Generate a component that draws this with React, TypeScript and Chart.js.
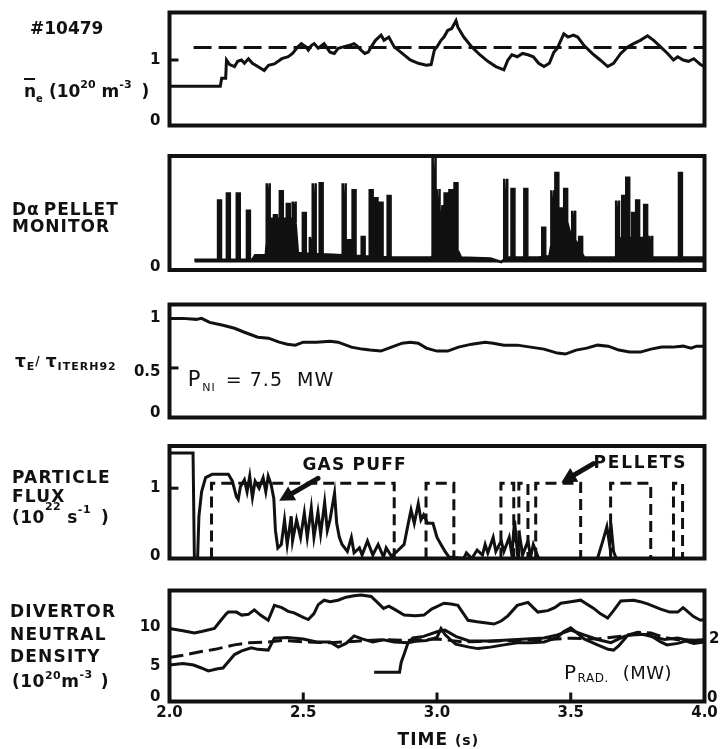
import React, { useEffect, useRef } from "react";
import { Chart, registerables } from "chart.js";
Chart.register(...registerables);

// ---------------- DATA ----------------
const xTicks = [2.0, 2.5, 3.0, 3.5, 4.0];
const xTickLabels = ["2.0", "2.5", "3.0", "3.5", "4.0"];

// Panel 1: line-averaged density n_e (10^20 m^-3)
const neT = [2.0, 2.19, 2.195, 2.21, 2.213, 2.225, 2.243, 2.255, 2.269, 2.28, 2.295, 2.31, 2.33, 2.354, 2.37, 2.392, 2.42, 2.444, 2.46, 2.48, 2.493, 2.51, 2.519, 2.53, 2.541, 2.556, 2.578, 2.6, 2.616, 2.631, 2.65, 2.67, 2.69, 2.705, 2.716, 2.73, 2.743, 2.754, 2.77, 2.791, 2.802, 2.82, 2.84, 2.87, 2.9, 2.93, 2.96, 2.978, 2.99, 3.0, 3.015, 3.026, 3.04, 3.055, 3.071, 3.078, 3.1, 3.13, 3.16, 3.19, 3.22, 3.25, 3.265, 3.28, 3.3, 3.32, 3.34, 3.36, 3.38, 3.4, 3.42, 3.437, 3.45, 3.463, 3.474, 3.49, 3.51, 3.526, 3.55, 3.58, 3.61, 3.638, 3.66, 3.687, 3.713, 3.735, 3.76, 3.787, 3.81, 3.836, 3.862, 3.884, 3.9, 3.92, 3.94, 3.96, 3.985, 4.0];
const neV = [0.6, 0.6, 0.72, 0.72, 1.0, 0.93, 0.9, 0.98, 1.0, 0.95, 1.02, 0.95, 0.9, 0.84, 0.92, 0.94, 1.02, 1.05, 1.1, 1.2, 1.25, 1.2, 1.15, 1.22, 1.25, 1.18, 1.25, 1.12, 1.1, 1.18, 1.2, 1.22, 1.25, 1.2, 1.15, 1.1, 1.12, 1.2, 1.3, 1.38, 1.3, 1.35, 1.2, 1.1, 1.0, 0.95, 0.92, 0.93, 1.15, 1.2, 1.3, 1.35, 1.45, 1.48, 1.6, 1.5, 1.35, 1.2, 1.08, 0.98, 0.9, 0.85, 1.0, 1.08, 1.05, 1.1, 1.08, 1.05, 0.95, 0.9, 0.95, 1.12, 1.18, 1.3, 1.4, 1.35, 1.38, 1.35, 1.22, 1.1, 1.0, 0.9, 0.95, 1.1, 1.2, 1.25, 1.3, 1.37, 1.3, 1.2, 1.1, 1.0, 1.05, 1.0, 0.98, 1.02, 0.93, 0.9];
const neRefT = [2.09, 4.0];
const neRefV = [1.19, 1.19];

// Panel 2: D-alpha pellet monitor (a.u.)
const daFloor = 0.065;
const daBaseT = [2.093, 2.18, 2.31, 2.32, 2.36, 2.37, 2.47, 2.48, 2.55, 2.65, 2.83, 2.98, 2.99, 3.08, 3.09, 3.2, 3.24, 3.26, 3.38, 3.42, 3.43, 3.52, 3.55, 3.67, 3.69, 3.77, 3.8, 4.0];
const daBaseV = [0.09, 0.09, 0.09, 0.13, 0.13, 0.45, 0.45, 0.15, 0.14, 0.13, 0.11, 0.11, 0.16, 0.16, 0.11, 0.1, 0.07, 0.11, 0.11, 0.12, 0.25, 0.25, 0.11, 0.11, 0.28, 0.28, 0.11, 0.11];
const daSpikeT = [2.187, 2.22, 2.257, 2.295, 2.369, 2.396, 2.418, 2.444, 2.466, 2.504, 2.53, 2.541, 2.567, 2.653, 2.672, 2.69, 2.724, 2.754, 2.772, 2.791, 2.821, 2.989, 3.004, 3.015, 3.034, 3.052, 3.071, 3.257, 3.284, 3.332, 3.399, 3.433, 3.448, 3.463, 3.481, 3.5, 3.511, 3.537, 3.675, 3.698, 3.713, 3.735, 3.75, 3.78, 3.799, 3.91];
const daSpikeV = [0.61, 0.67, 0.67, 0.52, 0.76, 0.48, 0.69, 0.58, 0.6, 0.5, 0.29, 0.76, 0.76, 0.76, 0.26, 0.7, 0.29, 0.7, 0.63, 0.59, 0.65, 1.0, 0.71, 0.57, 0.67, 0.7, 0.76, 0.8, 0.71, 0.71, 0.37, 0.7, 0.85, 0.54, 0.71, 0.35, 0.52, 0.29, 0.61, 0.65, 0.81, 0.5, 0.61, 0.57, 0.3, 0.85];

// Panel 3: tau_E / tau_ITERH92
const tauT = [2.0, 2.05, 2.1, 2.12, 2.15, 2.2, 2.243, 2.28, 2.33, 2.37, 2.41, 2.44, 2.47, 2.5, 2.55, 2.6, 2.63, 2.68, 2.72, 2.75, 2.79, 2.82, 2.87, 2.9, 2.93, 2.96, 3.0, 3.04, 3.08, 3.13, 3.18, 3.21, 3.25, 3.3, 3.35, 3.4, 3.45, 3.48, 3.52, 3.56, 3.6, 3.64, 3.68, 3.72, 3.76, 3.8, 3.84, 3.88, 3.92, 3.95, 3.97, 4.0];
const tauV = [1.0, 1.0, 0.99, 1.0, 0.96, 0.93, 0.9, 0.86, 0.81, 0.8, 0.76, 0.74, 0.73, 0.76, 0.76, 0.77, 0.76, 0.71, 0.69, 0.68, 0.67, 0.7, 0.75, 0.76, 0.75, 0.7, 0.67, 0.67, 0.71, 0.74, 0.76, 0.75, 0.73, 0.73, 0.71, 0.69, 0.65, 0.64, 0.68, 0.7, 0.73, 0.72, 0.68, 0.66, 0.66, 0.69, 0.71, 0.71, 0.72, 0.7, 0.72, 0.72];

// Panel 4: particle flux (10^22 s^-1)
const gasT = [2.0, 2.088, 2.093, 2.105, 2.11, 2.12, 2.135, 2.16, 2.22, 2.235, 2.25, 2.257, 2.265, 2.28, 2.29, 2.3, 2.31, 2.32, 2.335, 2.35, 2.36, 2.369, 2.38, 2.39, 2.396, 2.405, 2.418, 2.43, 2.44, 2.455, 2.46, 2.475, 2.49, 2.504, 2.515, 2.53, 2.54, 2.555, 2.565, 2.58, 2.59, 2.6, 2.617, 2.625, 2.635, 2.645, 2.665, 2.68, 2.69, 2.71, 2.72, 2.74, 2.76, 2.78, 2.8, 2.81, 2.83, 2.85, 2.877, 2.89, 2.903, 2.915, 2.93, 2.94, 2.95, 2.965, 2.985, 3.0, 3.015, 3.03, 3.045, 3.1, 3.11, 3.13, 3.15, 3.17, 3.18, 3.19, 3.21, 3.22, 3.24, 3.25, 3.27, 3.28, 3.29, 3.3, 3.31, 3.32, 3.34, 3.35, 3.36, 3.38, 3.6, 3.62, 3.635, 3.645, 3.65, 3.66, 3.67, 4.0];
const gasV = [1.5, 1.5, 0, 0, 0.6, 0.95, 1.15, 1.2, 1.2, 1.1, 0.88, 0.84, 1.02, 1.12, 0.95, 1.17, 0.87, 1.1, 1.0, 1.15, 0.95, 1.17, 1.05, 0.85, 0.4, 0.15, 0.2, 0.55, 0.2, 0.6, 0.25, 0.55, 0.3, 0.65, 0.3, 0.72, 0.3, 0.66, 0.35, 0.8, 0.4, 0.55, 0.93, 0.5, 0.3, 0.2, 0.1, 0.3, 0.08, 0.15, 0.05, 0.25, 0.05, 0.2, 0.02, 0.15, 0.03, 0.1, 0.2, 0.45, 0.69, 0.5, 0.78, 0.55, 0.62, 0.5, 0.5, 0.3, 0.2, 0.1, 0.02, 0, 0.08, 0, 0.12, 0.05, 0.2, 0.08, 0.3, 0.1, 0.25, 0.1, 0.3, 0.05, 0.54, 0.1, 0.3, 0.05, 0.25, 0.02, 0.2, 0, 0, 0.25, 0.45, 0.2, 0.5, 0.1, 0, 0];
const pelletOn = [2.157, 2.959, 3.239, 3.306, 3.369, 3.649, 3.884];
const pelletOff = [2.84, 3.063, 3.287, 3.34, 3.537, 3.799, 3.918];
const pelletLevel = 1.07;

// Panel 5: divertor neutral density (10^20 m^-3) and P_rad (MW)
const divTopT = [2.0, 2.05, 2.093, 2.12, 2.168, 2.19, 2.213, 2.22, 2.25, 2.27, 2.295, 2.317, 2.34, 2.369, 2.392, 2.42, 2.444, 2.466, 2.5, 2.519, 2.54, 2.556, 2.578, 2.6, 2.63, 2.66, 2.69, 2.716, 2.754, 2.78, 2.8, 2.82, 2.84, 2.877, 2.92, 2.951, 2.98, 3.026, 3.052, 3.078, 3.116, 3.15, 3.213, 3.24, 3.265, 3.3, 3.34, 3.377, 3.414, 3.44, 3.463, 3.5, 3.537, 3.586, 3.61, 3.638, 3.66, 3.687, 3.735, 3.76, 3.787, 3.836, 3.87, 3.9, 3.92, 3.959, 3.985, 4.0];
const divTopV = [9.8, 9.5, 9.2, 9.4, 9.8, 10.8, 11.8, 12.0, 12.0, 11.6, 11.7, 12.3, 11.6, 10.9, 12.9, 12.6, 12.1, 11.9, 11.3, 11.0, 11.8, 13.0, 13.6, 13.4, 13.6, 14.0, 14.2, 14.3, 14.1, 13.2, 12.5, 12.8, 12.4, 11.6, 11.5, 11.6, 12.4, 13.2, 13.1, 12.9, 10.9, 10.7, 10.4, 10.8, 11.5, 12.9, 13.3, 12.0, 12.2, 12.6, 13.2, 13.4, 13.6, 12.5, 11.8, 11.2, 12.2, 13.5, 13.6, 13.4, 13.1, 12.4, 12.0, 12.0, 12.6, 11.4, 10.9, 11.0];
const divLowT = [2.0, 2.05, 2.09, 2.119, 2.145, 2.18, 2.2, 2.243, 2.27, 2.306, 2.33, 2.369, 2.392, 2.44, 2.5, 2.55, 2.6, 2.631, 2.66, 2.69, 2.72, 2.76, 2.8, 2.84, 2.892, 2.92, 2.96, 3.0, 3.015, 3.03, 3.05, 3.07, 3.12, 3.153, 3.2, 3.25, 3.3, 3.35, 3.4, 3.45, 3.474, 3.5, 3.53, 3.55, 3.6, 3.64, 3.66, 3.68, 3.713, 3.76, 3.79, 3.81, 3.836, 3.86, 3.9, 3.93, 3.96, 4.0];
const divLowV = [4.9, 5.1, 4.9, 4.5, 4.1, 4.4, 4.5, 6.3, 6.8, 7.2, 7.0, 6.9, 8.5, 8.6, 8.4, 8.0, 8.0, 7.3, 7.8, 8.8, 8.4, 8.0, 8.3, 8.0, 7.9, 8.1, 8.2, 8.6, 9.8, 9.0, 8.3, 7.7, 7.3, 7.1, 7.3, 7.6, 7.9, 7.9, 8.0, 8.6, 9.4, 9.9, 9.0, 8.4, 7.6, 7.0, 6.9, 7.5, 8.9, 9.0, 9.0, 8.6, 8.0, 7.6, 7.8, 8.1, 7.8, 8.0];
const divDashT = [2.0, 2.05, 2.119, 2.17, 2.243, 2.3, 2.37, 2.42, 2.5, 2.6, 2.7, 2.8, 2.9, 3.0, 3.1, 3.2, 3.3, 3.4, 3.5, 3.6, 3.7, 3.75, 3.8, 3.85, 3.9, 4.0];
const divDashV = [5.9, 6.2, 6.7, 7.0, 7.6, 7.9, 8.0, 8.2, 8.0, 7.9, 8.1, 8.3, 8.2, 8.4, 8.0, 8.1, 8.2, 8.3, 8.5, 8.4, 8.8, 9.3, 9.2, 8.6, 8.3, 8.2];
const pradT = [2.765, 2.86, 2.866, 2.88, 2.892, 2.91, 2.95, 3.0, 3.03, 3.07, 3.12, 3.2, 3.3, 3.4, 3.45, 3.5, 3.55, 3.6, 3.65, 3.7, 3.75, 3.8, 3.85, 3.9, 3.95, 4.0];
const pradV = [0.94, 0.94, 1.26, 1.6, 1.9, 2.05, 2.1, 2.25, 2.3, 2.1, 1.95, 1.95, 2.0, 2.05, 2.15, 2.3, 2.15, 2.0, 1.9, 2.1, 2.2, 2.1, 2.0, 2.05, 1.95, 2.0];

// ---------------- LAYOUT ----------------
const CW = 720;
const CH = 749;
const LEFT = 169.5;
const RIGHT = 704.5;
const FAM = "'DejaVu Sans', 'Liberation Sans', Arial, sans-serif";
const INK = "#111";

type Pt = { x: number; y: number | null };
const zip = (t: number[], v: number[]): Pt[] => t.map((x, i) => ({ x, y: v[i] }));

function interpAt(t: number[], v: number[], x: number) {
  if (x <= t[0]) return v[0];
  for (let i = 1; i < t.length; i++) {
    if (x <= t[i]) {
      const f = (x - t[i - 1]) / (t[i] - t[i - 1]);
      return v[i - 1] + f * (v[i] - v[i - 1]);
    }
  }
  return v[v.length - 1];
}

function spikeTrace(bt: number[], bv: number[], st: number[], sv: number[], hw: number): Pt[] {
  const items: { x: number; y: number; o: number }[] = bt.map((x, i) => ({ x, y: bv[i], o: 1.5 }));
  st.forEach((t, i) => {
    const b1 = interpAt(bt, bv, t - hw);
    const b2 = interpAt(bt, bv, t + hw);
    items.push({ x: t - hw, y: b1, o: 0 }, { x: t - hw, y: sv[i], o: 1 }, { x: t + hw, y: sv[i], o: 2 }, { x: t + hw, y: b2, o: 3 });
  });
  items.sort((a, b) => a.x - b.x || a.o - b.o);
  return items.map((p) => ({ x: p.x, y: p.y }));
}

function pelletTrace(): Pt[] {
  const out: Pt[] = [];
  pelletOn.forEach((on, i) => {
    const off = pelletOff[i];
    out.push({ x: on, y: 0 }, { x: on, y: pelletLevel }, { x: off, y: pelletLevel }, { x: off, y: 0 }, { x: (off + (pelletOn[i + 1] ?? 4)) / 2, y: null });
  });
  return out;
}

type Seg = { t: string; size?: number; dy?: number; weight?: string; gap?: number };

function rich(ctx: CanvasRenderingContext2D, x: number, y: number, segs: Seg[], size = 17, weight = "bold", spacing = 1, align: "left" | "center" | "right" = "left") {
  const anyCtx = ctx as any;
  const font = (s: Seg) => `${s.weight ?? weight} ${s.size ?? size}px ${FAM}`;
  const widths = segs.map((s) => {
    ctx.font = font(s);
    anyCtx.letterSpacing = `${spacing}px`;
    return ctx.measureText(s.t).width + (s.gap ?? 0);
  });
  const total = widths.reduce((a, b) => a + b, 0);
  let cx = align === "center" ? x - total / 2 : align === "right" ? x - total : x;
  ctx.textAlign = "left";
  ctx.textBaseline = "alphabetic";
  ctx.fillStyle = INK;
  segs.forEach((s, i) => {
    ctx.font = font(s);
    anyCtx.letterSpacing = `${spacing}px`;
    ctx.fillText(s.t, cx, y + (s.dy ?? 0));
    cx += widths[i];
  });
  anyCtx.letterSpacing = "0px";
}

function arrow(ctx: CanvasRenderingContext2D, x1: number, y1: number, x2: number, y2: number) {
  const ang = Math.atan2(y2 - y1, x2 - x1);
  const L = 15;
  const hx = x2 - L * Math.cos(ang);
  const hy = y2 - L * Math.sin(ang);
  ctx.strokeStyle = INK;
  ctx.fillStyle = INK;
  ctx.lineWidth = 5;
  ctx.lineCap = "round";
  ctx.beginPath();
  ctx.moveTo(x1, y1);
  ctx.lineTo(hx, hy);
  ctx.stroke();
  ctx.beginPath();
  ctx.moveTo(x2, y2);
  ctx.lineTo(hx + 8 * Math.sin(ang), hy - 8 * Math.cos(ang));
  ctx.lineTo(hx - 8 * Math.sin(ang), hy + 8 * Math.cos(ang));
  ctx.closePath();
  ctx.fill();
  ctx.lineCap = "butt";
}

type PanelDef = {
  top: number;
  bottom: number;
  yMin: number;
  yMax: number;
  y2?: { min: number; max: number };
  datasets: any[];
  yTicks: { v: number; label: string; mark: boolean; dy?: number }[];
  deco: (ctx: CanvasRenderingContext2D, chart: any) => void;
};

const line = (data: Pt[], extra: any = {}) => ({
  data,
  borderColor: INK,
  borderWidth: 3,
  pointRadius: 0,
  tension: 0,
  spanGaps: false,
  fill: false,
  ...extra,
});

const panels: PanelDef[] = [
  {
    top: 12.5,
    bottom: 125.5,
    yMin: 0,
    yMax: 1.725,
    datasets: [line(zip(neT, neV)), line(zip(neRefT, neRefV), { borderDash: [18, 7] })],
    yTicks: [
      { v: 1, label: "1", mark: true },
      { v: 0, label: "0", mark: false, dy: -4 },
    ],
    deco: (ctx) => {
      rich(ctx, 30, 34, [{ t: "#10479" }], 17, "bold", 0);
      rich(ctx, 24, 97, [
        { t: "n", gap: 0 },
        { t: "e", size: 10, dy: 5, gap: 6 },
        { t: "(10" },
        { t: "20", size: 11, dy: -9, gap: 6 },
        { t: "m" },
        { t: "-3", size: 11, dy: -9, gap: 10 },
        { t: ")" },
      ], 17, "bold", 0);
      ctx.fillStyle = INK;
      ctx.fillRect(24, 78, 11, 2);
    },
  },
  {
    top: 156,
    bottom: 270,
    yMin: 0,
    yMax: 1.0,
    datasets: [
      line(spikeTrace(daBaseT, daBaseV, daSpikeT, daSpikeV, 0.0055), {
        borderWidth: 2.5,
        fill: { value: daFloor },
        backgroundColor: INK,
      }),
    ],
    yTicks: [{ v: 0, label: "0", mark: false, dy: -3 }],
    deco: (ctx) => {
      rich(ctx, 12, 215, [{ t: "D" }, { t: "α", gap: 4 }, { t: "PELLET" }], 17, "bold", 1);
      rich(ctx, 12, 232, [{ t: "MONITOR" }], 17, "bold", 1);
    },
  },
  {
    top: 304.5,
    bottom: 417.5,
    yMin: 0,
    yMax: 1.14,
    datasets: [line(zip(tauT, tauV))],
    yTicks: [
      { v: 1, label: "1", mark: false },
      { v: 0.5, label: "0.5", mark: true, dy: 4 },
      { v: 0, label: "0", mark: false, dy: -4 },
    ],
    deco: (ctx, chart) => {
      rich(ctx, 15, 367, [
        { t: "τ", size: 17 },
        { t: "E", size: 11, dy: 3 },
        { t: "/", size: 12, dy: -2, gap: 5 },
        { t: "τ", size: 17 },
        { t: "ITERH92", size: 11, dy: 3 },
      ], 17, "bold", 1);
      const xs = chart.scales.x;
      const ys = chart.scales.y;
      const bx = xs.getPixelForValue(2.068);
      const by = ys.getPixelForValue(0.32);
      rich(ctx, bx, by, [
        { t: "P", size: 21, gap: 1 },
        { t: "NI", size: 11, dy: 5, gap: 10 },
        { t: "= 7.5", size: 19, gap: 14 },
        { t: "MW", size: 19 },
      ], 19, "normal", 1);
    },
  },
  {
    top: 446,
    bottom: 558.5,
    yMin: 0,
    yMax: 1.6,
    datasets: [line(zip(gasT, gasV)), line(pelletTrace(), { borderDash: [11, 6] })],
    yTicks: [
      { v: 1, label: "1", mark: true },
      { v: 0, label: "0", mark: false, dy: -2 },
    ],
    deco: (ctx, chart) => {
      rich(ctx, 12, 483, [{ t: "PARTICLE" }], 17, "bold", 1.2);
      rich(ctx, 12, 502, [{ t: "FLUX" }], 17, "bold", 1.2);
      rich(ctx, 12, 523, [
        { t: "(10" },
        { t: "22", size: 11, dy: -13, gap: 6 },
        { t: "s" },
        { t: "-1", size: 11, dy: -10, gap: 10 },
        { t: ")" },
      ], 17, "bold", 0.5);
      const xs = chart.scales.x;
      const ys = chart.scales.y;
      const px = (t: number) => xs.getPixelForValue(t);
      const py = (v: number) => ys.getPixelForValue(v);
      rich(ctx, px(2.497), py(1.26), [{ t: "GAS PUFF" }], 17, "bold", 1.2);
      rich(ctx, px(3.585), py(1.29), [{ t: "PELLETS" }], 17, "bold", 1.8);
      arrow(ctx, px(2.555), py(1.14), px(2.41), py(0.82));
      arrow(ctx, px(3.585), py(1.35), px(3.465), py(1.08));
    },
  },
  {
    top: 590.5,
    bottom: 701.5,
    yMin: 0,
    yMax: 14.9,
    y2: { min: 0, max: 3.58 },
    datasets: [
      line(zip(divTopT, divTopV)),
      line(zip(divLowT, divLowV)),
      line(zip(divDashT, divDashV), { borderDash: [14, 6] }),
      line(zip(pradT, pradV), { yAxisID: "y2" }),
    ],
    yTicks: [
      { v: 10, label: "10", mark: false },
      { v: 5, label: "5", mark: false, dy: 2 },
      { v: 0, label: "0", mark: false, dy: -4 },
    ],
    deco: (ctx, chart) => {
      rich(ctx, 10, 617, [{ t: "DIVERTOR" }], 17, "bold", 1.2);
      rich(ctx, 10, 640, [{ t: "NEUTRAL" }], 17, "bold", 1.2);
      rich(ctx, 10, 662, [{ t: "DENSITY" }], 17, "bold", 1.2);
      rich(ctx, 12, 687, [
        { t: "(10" },
        { t: "20", size: 11, dy: -8 },
        { t: "m" },
        { t: "-3", size: 11, dy: -9, gap: 8 },
        { t: ")" },
      ], 17, "bold", 0.5);
      const xs = chart.scales.x;
      const ys = chart.scales.y;
      const y2 = chart.scales.y2;
      ctx.strokeStyle = INK;
      ctx.lineWidth = 3;
      xTicks.forEach((t, i) => {
        const x = xs.getPixelForValue(t);
        if (i > 0 && i < xTicks.length - 1) {
          ctx.beginPath();
          ctx.moveTo(x, ys.bottom);
          ctx.lineTo(x, ys.bottom - 9);
          ctx.stroke();
        }
        rich(ctx, x, 717, [{ t: xTickLabels[i] }], 15, "bold", 0, "center");
      });
      rich(ctx, xs.getPixelForValue(3.005), 745, [{ t: "TIME " }, { t: "(s)", size: 14 }], 17, "bold", 1, "center");
      ctx.font = `bold 15px ${FAM}`;
      ctx.textAlign = "left";
      ctx.textBaseline = "middle";
      ctx.fillStyle = INK;
      ctx.fillText("2", 709, y2.getPixelForValue(2));
      ctx.fillText("0", 707, y2.getPixelForValue(0) - 3);
      rich(ctx, xs.getPixelForValue(3.475), ys.getPixelForValue(3.0), [
        { t: "P", size: 20, gap: 1 },
        { t: "RAD.", size: 12, dy: 3, gap: 14 },
        { t: "(MW)", size: 18 },
      ], 18, "normal", 0.5);
    },
  },
];

function Panel({ def }: { def: PanelDef }) {
  const ref = useRef<HTMLCanvasElement | null>(null);
  useEffect(() => {
    const canvas = ref.current;
    if (!canvas) return;
    const decoPlugin = {
      id: "deco",
      afterDraw(chart: any) {
        const ctx: CanvasRenderingContext2D = chart.ctx;
        const a = chart.chartArea;
        const ys = chart.scales.y;
        ctx.save();
        ctx.strokeStyle = INK;
        ctx.lineWidth = 4;
        ctx.strokeRect(a.left, a.top, a.right - a.left, a.bottom - a.top);
        ctx.lineWidth = 3;
        def.yTicks.forEach((tk) => {
          const y = ys.getPixelForValue(tk.v);
          if (tk.mark) {
            ctx.beginPath();
            ctx.moveTo(a.left, y);
            ctx.lineTo(a.left + 9, y);
            ctx.stroke();
          }
          ctx.font = `bold 15px ${FAM}`;
          ctx.textAlign = "right";
          ctx.textBaseline = "middle";
          ctx.fillStyle = INK;
          ctx.fillText(tk.label, a.left - 9, y + (tk.dy ?? 0));
        });
        def.deco(ctx, chart);
        ctx.restore();
      },
    };
    const scales: any = {
      x: { type: "linear", min: 2.0, max: 4.0, display: false },
      y: { type: "linear", min: def.yMin, max: def.yMax, display: false },
    };
    if (def.y2) scales.y2 = { type: "linear", position: "right", min: def.y2.min, max: def.y2.max, display: false };
    const chart = new Chart(canvas, {
      type: "line",
      data: { datasets: def.datasets },
      options: {
        animation: false,
        responsive: false,
        events: [],
        layout: { padding: { left: LEFT, right: CW - RIGHT, top: def.top, bottom: CH - def.bottom } },
        scales,
        plugins: { legend: { display: false }, tooltip: { enabled: false }, filler: { propagate: false } },
      },
      plugins: [decoPlugin],
    } as any);
    return () => chart.destroy();
  }, [def]);
  return (
    <canvas
      ref={ref}
      width={CW}
      height={CH}
      style={{ position: "absolute", left: 0, top: 0, width: CW, height: CH }}
    />
  );
}

export default function App() {
  return (
    <div style={{ position: "fixed", left: 0, top: 0, width: CW, height: CH, background: "#fff", overflow: "hidden" }}>
      {panels.map((p, i) => (
        <Panel key={i} def={p} />
      ))}
    </div>
  );
}
